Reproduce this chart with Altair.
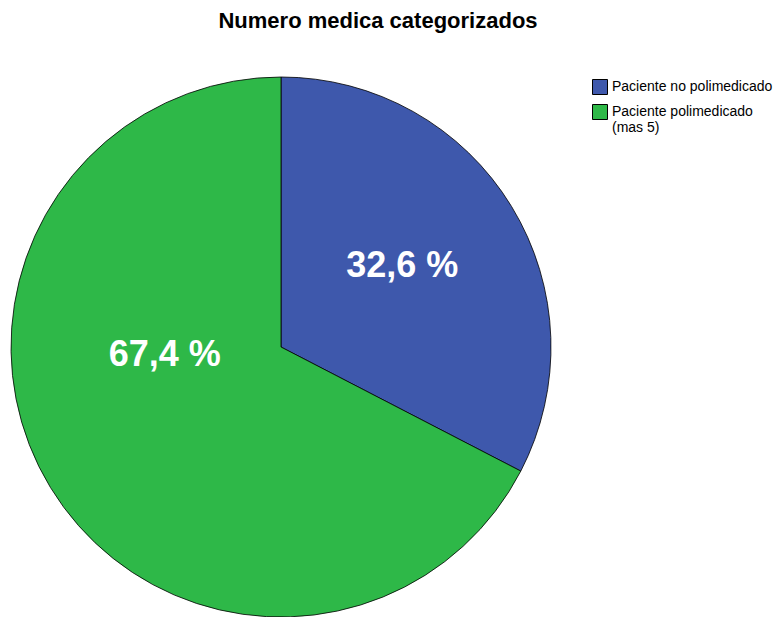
import altair as alt
import pandas as pd

categories = ["Paciente no polimedicado", "Paciente polimedicado (mas 5)"]
percents = [32.6, 67.4]
labels = ["32,6 %", "67,4 %"]
colors = ["#3E58AC", "#2EB848"]

df = pd.DataFrame({"cat": categories, "pct": percents, "label": labels})

TOP = 40
cx, cy = 281, 347 - TOP

base = alt.Chart(df).encode(
    theta=alt.Theta("pct:Q", stack=True),
    order=alt.Order("cat:N", sort="ascending"),
)

pie = base.mark_arc(stroke="#000000", strokeWidth=0.8, outerRadius=270).encode(
    x=alt.value(cx),
    y=alt.value(cy),
    color=alt.Color(
        "cat:N",
        scale=alt.Scale(domain=categories, range=colors),
        legend=alt.Legend(
            title=None,
            orient="none",
            legendX=592,
            legendY=79 - TOP,
            symbolType="square",
            symbolSize=225,
            symbolStrokeColor="#000000",
            symbolStrokeWidth=1,
            symbolOpacity=1,
            labelFont="Liberation Sans",
            labelFontSize=14,
            labelColor="#000000",
            labelLimit=250,
            labelOffset=4,
            rowPadding=5,
            labelExpr="datum.label == 'Paciente polimedicado (mas 5)' ? ['Paciente polimedicado', '(mas 5)'] : datum.label",
        ),
    ),
)

txt_common = dict(font="Liberation Sans", fontSize=36, fontWeight="bold", color="white",
                  align="center", baseline="middle")


def label_layer(idx, radius, dy):
    return alt.Chart(df).transform_joinaggregate(total="sum(pct)").transform_window(
        cum="sum(pct)", sort=[alt.SortField("cat", order="ascending")]
    ).transform_filter(alt.datum.cat == categories[idx]).transform_calculate(
        mid="(datum.cum - datum.pct/2) / datum.total * 2 * PI"
    ).mark_text(radius=radius, dy=dy, **txt_common).encode(
        theta=alt.Theta("mid:Q", scale=None), x=alt.value(cx), y=alt.value(cy), text="label:N"
    )


t1 = label_layer(0, 142, -7)
t2 = label_layer(1, 136, -63)

chart = alt.layer(pie, t1, t2).properties(
    width=780,
    height=617 - TOP,
    title=alt.TitleParams(
        "Numero medica categorizados",
        font="Liberation Sans",
        fontSize=22,
        fontWeight="bold",
        color="#000000",
        anchor="middle",
        dx=-12,
        offset=7,
    ),
    autosize=alt.AutoSizeParams(type="none"),
    padding={"left": 0, "top": TOP, "right": 0, "bottom": 0},
).configure_view(stroke=None)

chart.save("out.html", embed_options={"renderer": "svg", "actions": False})
